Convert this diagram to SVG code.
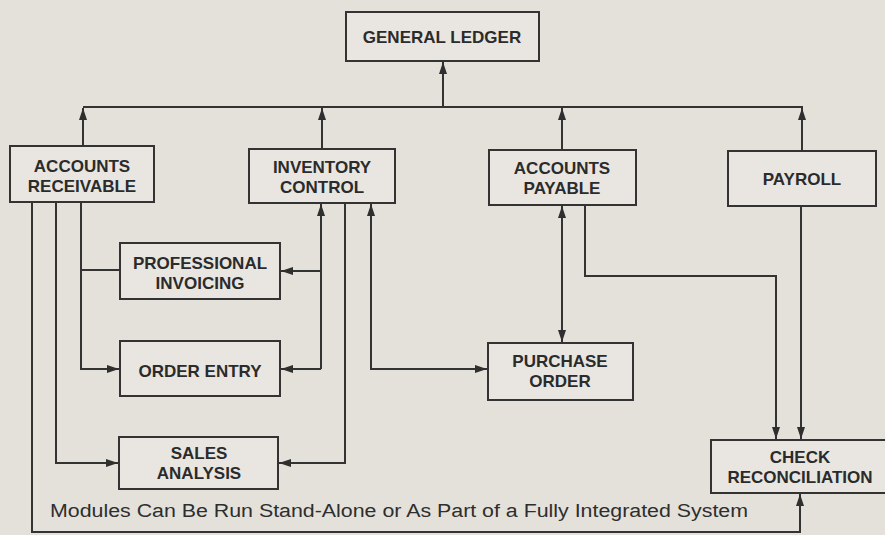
<svg xmlns="http://www.w3.org/2000/svg" width="885" height="535" viewBox="0 0 885 535">
<defs>
<marker id="arr" viewBox="0 0 12 8" refX="12" refY="4" markerWidth="12" markerHeight="8" markerUnits="userSpaceOnUse" orient="auto-start-reverse">
<path d="M0 0 L12 4 L0 8 Z" fill="#2f2f2f"/>
</marker>
</defs>
<style>
.box{fill:#e9e6e1;stroke:#333;stroke-width:2}
.lbl{font-family:"Liberation Sans",Arial,Helvetica,sans-serif;font-weight:bold;font-size:17px;fill:#2b2b2b;text-anchor:middle}
.cap{font-family:"Liberation Sans",Arial,Helvetica,sans-serif;font-size:18px;fill:#2e2e2e}
.c{fill:none;stroke:#333;stroke-width:2}
.a{marker-end:url(#arr)}
.b{marker-start:url(#arr);marker-end:url(#arr)}
</style>
<rect width="885" height="535" fill="#e4e1db"/>
<g id="connectors">
<path class="c" d="M83 107 H803"/>
<path class="c a" d="M443 107 V62"/>
<path class="c a" d="M83 146 V108"/>
<path class="c a" d="M322 149 V108"/>
<path class="c a" d="M562 150 V108"/>
<path class="c a" d="M802 151 V108"/>
<path class="c a" d="M32 203 V532 H800 V494"/>
<path class="c a" d="M56 203 V463 H118"/>
<path class="c a" d="M81 203 V369 H119"/>
<path class="c" d="M81 270 H120"/>
<path class="c a" d="M321 369 V204"/>
<path class="c a" d="M321 271 H281"/>
<path class="c a" d="M321 369 H281"/>
<path class="c a" d="M345 204 V463 H279"/>
<path class="c b" d="M487 369 H371 V204"/>
<path class="c b" d="M562 206 V342"/>
<path class="c a" d="M585 206 V276 H776 V439"/>
<path class="c a" d="M801 207 V439"/>
</g>
<g id="general-ledger">
<rect class="box" x="346" y="12" width="193" height="49"/>
<text class="lbl" x="442" y="43">GENERAL LEDGER</text>
</g>
<g id="accounts-receivable">
<rect class="box" x="10" y="146" width="144" height="56"/>
<text class="lbl" x="82" y="172">ACCOUNTS</text>
<text class="lbl" x="82" y="192">RECEIVABLE</text>
</g>
<g id="inventory-control">
<rect class="box" x="249" y="149" width="146" height="54"/>
<text class="lbl" x="322" y="173">INVENTORY</text>
<text class="lbl" x="322" y="193">CONTROL</text>
</g>
<g id="accounts-payable">
<rect class="box" x="489" y="150" width="147" height="55"/>
<text class="lbl" x="562" y="174">ACCOUNTS</text>
<text class="lbl" x="562" y="194">PAYABLE</text>
</g>
<g id="payroll">
<rect class="box" x="728" y="151" width="148" height="55"/>
<text class="lbl" x="802" y="185">PAYROLL</text>
</g>
<g id="professional-invoicing">
<rect class="box" x="120" y="243" width="160" height="56"/>
<text class="lbl" x="200" y="269">PROFESSIONAL</text>
<text class="lbl" x="200" y="289">INVOICING</text>
</g>
<g id="order-entry">
<rect class="box" x="120" y="341" width="160" height="55"/>
<text class="lbl" x="200" y="377">ORDER ENTRY</text>
</g>
<g id="sales-analysis">
<rect class="box" x="119" y="437" width="159" height="52"/>
<text class="lbl" x="199" y="459">SALES</text>
<text class="lbl" x="199" y="479">ANALYSIS</text>
</g>
<g id="purchase-order">
<rect class="box" x="488" y="343" width="145" height="57"/>
<text class="lbl" x="560" y="367">PURCHASE</text>
<text class="lbl" x="560" y="387">ORDER</text>
</g>
<g id="check-reconciliation">
<rect class="box" x="711" y="440" width="178" height="53"/>
<text class="lbl" x="800" y="463">CHECK</text>
<text class="lbl" x="800" y="483">RECONCILIATION</text>
</g>
<text class="cap" x="50" y="517" textLength="698" lengthAdjust="spacingAndGlyphs">Modules Can Be Run Stand-Alone or As Part of a Fully Integrated System</text>
</svg>
